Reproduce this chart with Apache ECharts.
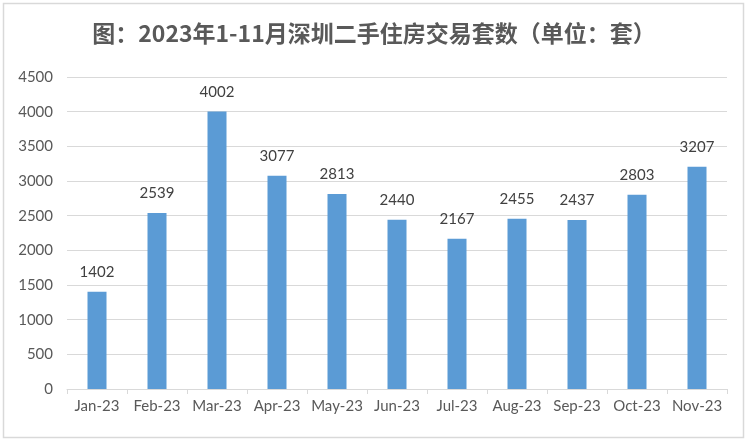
<!DOCTYPE html>
<html><head><meta charset="utf-8">
<script src="https://cdn.jsdelivr.net/npm/echarts@6/dist/echarts.min.js"></script>
<style>html,body{margin:0;padding:0;background:#fff}#c{width:748px;height:442px}</style>
</head><body><div id="c"></div>
<script>
var titleText = '图：2023年1-11月深圳二手住房交易套数（单位：套）';
var categories = ['Jan-23','Feb-23','Mar-23','Apr-23','May-23','Jun-23','Jul-23','Aug-23','Sep-23','Oct-23','Nov-23'];
var values = [1402,2539,4002,3077,2813,2440,2167,2455,2437,2803,3207];
var yTicks = [0,500,1000,1500,2000,2500,3000,3500,4000,4500];

var chart = echarts.init(document.getElementById('c'));
chart.setOption({
  animation:false,
  backgroundColor:'#fff',
  graphic:[{type:'rect',shape:{x:3.5,y:3.5,width:740,height:434},style:{fill:'none',stroke:'#d9d9d9',lineWidth:1.5}}],
  title:{text:titleText,left:'center',top:17,textStyle:{fontFamily:'"Noto Sans CJK SC"',fontWeight:'bold',fontSize:23,color:'#595959'}},
  grid:{left:67,right:21,top:77,bottom:53},
  xAxis:{type:'category',data:categories,
    axisLine:{lineStyle:{color:'#d9d9d9',width:1}},
    axisTick:{show:true,alignWithLabel:false,length:5,lineStyle:{color:'#d9d9d9'}},
    axisLabel:{interval:0,color:'#595959',fontFamily:'Lato, "Open Sans", sans-serif',fontSize:15,margin:10}},
  yAxis:{type:'value',min:yTicks[0],max:yTicks[yTicks.length-1],interval:500,
    axisLine:{show:false},axisTick:{show:false},
    splitLine:{lineStyle:{color:'#d9d9d9',width:1}},
    axisLabel:{formatter:function(v){return String(v);},color:'#595959',fontFamily:'Lato, "Open Sans", sans-serif',fontSize:15,margin:14}},
  series:[{type:'bar',data:values,barWidth:19,
    itemStyle:{color:'#5b9bd5'},
    label:{show:true,position:'top',distance:12,color:'#404040',fontFamily:'Lato, "Open Sans", sans-serif',fontSize:15}}]
});
</script></body></html>
